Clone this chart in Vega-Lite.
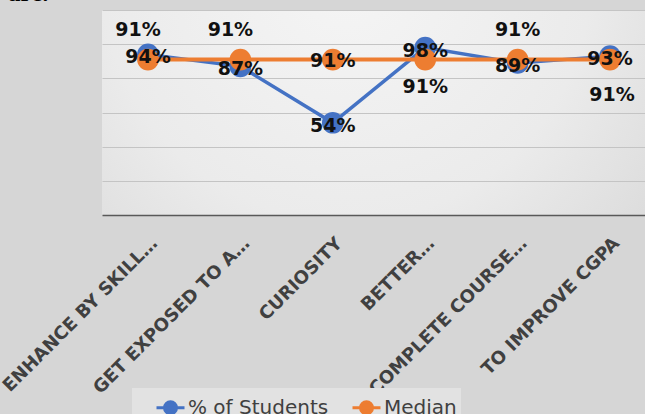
{
  "$schema": "https://vega.github.io/schema/vega-lite/v6.json",
  "autosize": {"type": "none"},
  "width": 543,
  "height": 205,
  "padding": {"left": 102, "top": 10, "right": 0, "bottom": 199},
  "background": "#d6d6d6",
  "title": {
    "text": "are.",
    "anchor": "start",
    "orient": "top",
    "frame": "group",
    "offset": 0,
    "baseline": "alphabetic",
    "dx": -94,
    "dy": 16,
    "font": "Liberation Serif",
    "fontSize": 25,
    "fontWeight": "bold",
    "color": "#000000"
  },
  "config": {
    "view": {
      "stroke": null,
      "fill": {
        "gradient": "radial",
        "x1": 0.45, "y1": 0.25, "r1": 0,
        "x2": 0.45, "y2": 0.25, "r2": 0.75,
        "stops": [
          {"offset": 0, "color": "#f5f5f5"},
          {"offset": 0.6, "color": "#ebebeb"},
          {"offset": 1, "color": "#dadada"}
        ]
      }
    }
  },
  "data": {
    "values": [
      {"category": "ENHANCE BY SKILL…", "series": "% of Students", "value": 0.94},
      {"category": "GET EXPOSED TO A…", "series": "% of Students", "value": 0.87},
      {"category": "CURIOSITY", "series": "% of Students", "value": 0.54},
      {"category": "BETTER…", "series": "% of Students", "value": 0.98},
      {"category": "COMPLETE COURSE…", "series": "% of Students", "value": 0.89},
      {"category": "TO IMPROVE CGPA", "series": "% of Students", "value": 0.93},
      {"category": "ENHANCE BY SKILL…", "series": "Median", "value": 0.91},
      {"category": "GET EXPOSED TO A…", "series": "Median", "value": 0.91},
      {"category": "CURIOSITY", "series": "Median", "value": 0.91},
      {"category": "BETTER…", "series": "Median", "value": 0.91},
      {"category": "COMPLETE COURSE…", "series": "Median", "value": 0.91},
      {"category": "TO IMPROVE CGPA", "series": "Median", "value": 0.91}
    ]
  },
  "encoding": {
    "x": {
      "field": "category",
      "type": "nominal",
      "sort": null,
      "scale": {"type": "point", "padding": 0.438, "align": 0.568},
      "axis": {
        "title": null,
        "labelAngle": -45,
        "labelAlign": "right",
        "labelBaseline": "top",
        "labelPadding": 19,
        "labelFont": "DejaVu Sans",
        "labelFontSize": 18,
        "labelFontWeight": "bold",
        "labelColor": "#404040",
        "labelLimit": 0,
        "labelOverlap": false,
        "ticks": false,
        "grid": false,
        "domainColor": "#595959",
        "domainWidth": 1.5
      }
    },
    "y": {
      "field": "value",
      "type": "quantitative",
      "scale": {"domain": [0, 1.2], "nice": false},
      "axis": {
        "title": null,
        "labels": false,
        "ticks": false,
        "domain": false,
        "values": [0.2, 0.4, 0.6, 0.8, 1.0, 1.2],
        "gridColor": "#c4c4c4",
        "gridWidth": 1
      }
    },
    "color": {
      "field": "series",
      "type": "nominal",
      "scale": {"domain": ["% of Students", "Median"], "range": ["#4472C4", "#ED7D31"]},
      "legend": {
        "title": null,
        "orient": "none",
        "legendX": 30,
        "legendY": 378,
        "direction": "horizontal",
        "fillColor": "#e2e2e2",
        "padding": 4,
        "symbolOffset": 19,
        "labelFont": "DejaVu Sans",
        "labelFontSize": 20,
        "labelColor": "#404040",
        "labelOffset": 2,
        "labelLimit": 0,
        "columnPadding": 3,
        "symbolType": "M-1,0L1,0M0.43,0A0.43,0.43,0,1,1,-0.43,0A0.43,0.43,0,1,1,0.43,0Z",
        "symbolSize": 784,
        "symbolStrokeWidth": 3,
        "symbolOpacity": 1,
        "encode": {
          "symbols": {
            "update": {
              "fill": {"scale": "color", "field": "value"},
              "stroke": {"scale": "color", "field": "value"}
            }
          }
        }
      }
    }
  },
  "layer": [
    {
      "transform": [{"filter": "datum.series === '% of Students'"}],
      "mark": {"type": "line", "strokeWidth": 3.5}
    },
    {
      "transform": [{"filter": "datum.series === '% of Students'"}],
      "mark": {"type": "point", "filled": true, "size": 470, "opacity": 1}
    },
    {
      "transform": [{"filter": "datum.series === 'Median'"}],
      "mark": {"type": "line", "strokeWidth": 4}
    },
    {
      "transform": [{"filter": "datum.series === 'Median'"}],
      "mark": {"type": "point", "filled": true, "size": 470, "opacity": 1}
    },
    {
      "transform": [{"filter": "datum.series === '% of Students'"}],
      "mark": {"type": "text", "font": "DejaVu Sans", "fontWeight": "bold", "fontSize": 19, "dy": 3},
      "encoding": {"text": {"field": "value", "format": ".0%"}, "color": {"value": "#111111"}}
    },
    {
      "transform": [{"filter": "datum.series === 'Median'"}, {"filter": {"field": "category", "oneOf": ["ENHANCE BY SKILL…", "GET EXPOSED TO A…"]}}],
      "mark": {"type": "text", "font": "DejaVu Sans", "fontWeight": "bold", "fontSize": 19, "dy": -30, "dx": -10},
      "encoding": {"text": {"field": "value", "format": ".0%"}, "color": {"value": "#111111"}}
    },
    {
      "transform": [{"filter": "datum.series === 'Median'"}, {"filter": {"field": "category", "oneOf": ["COMPLETE COURSE…"]}}],
      "mark": {"type": "text", "font": "DejaVu Sans", "fontWeight": "bold", "fontSize": 19, "dy": -30},
      "encoding": {"text": {"field": "value", "format": ".0%"}, "color": {"value": "#111111"}}
    },
    {
      "transform": [{"filter": "datum.series === 'Median'"}, {"filter": {"field": "category", "oneOf": ["CURIOSITY"]}}],
      "mark": {"type": "text", "font": "DejaVu Sans", "fontWeight": "bold", "fontSize": 19, "dy": 1},
      "encoding": {"text": {"field": "value", "format": ".0%"}, "color": {"value": "#111111"}}
    },
    {
      "transform": [{"filter": "datum.series === 'Median'"}, {"filter": {"field": "category", "oneOf": ["BETTER…"]}}],
      "mark": {"type": "text", "font": "DejaVu Sans", "fontWeight": "bold", "fontSize": 19, "dy": 27},
      "encoding": {"text": {"field": "value", "format": ".0%"}, "color": {"value": "#111111"}}
    },
    {
      "transform": [{"filter": "datum.series === 'Median'"}, {"filter": {"field": "category", "oneOf": ["TO IMPROVE CGPA"]}}],
      "mark": {"type": "text", "font": "DejaVu Sans", "fontWeight": "bold", "fontSize": 19, "dy": 35, "dx": 2},
      "encoding": {"text": {"field": "value", "format": ".0%"}, "color": {"value": "#111111"}}
    }
  ]
}
